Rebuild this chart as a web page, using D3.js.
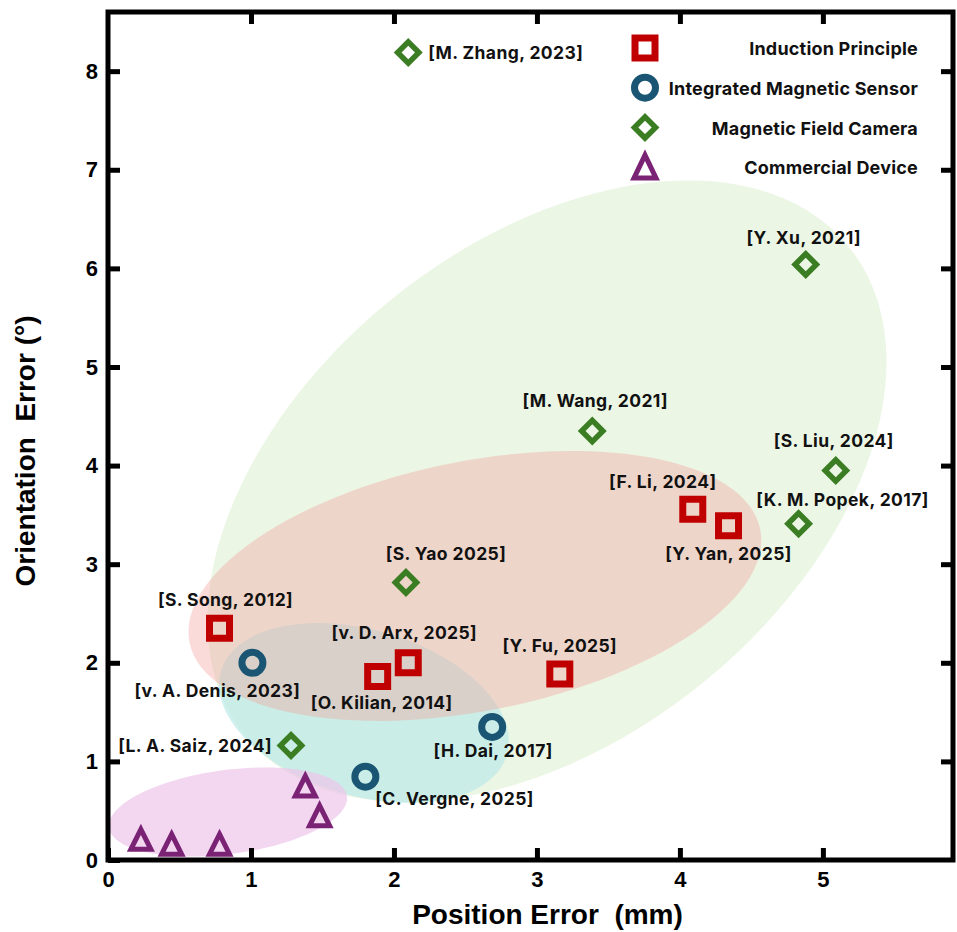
<!DOCTYPE html>
<html>
<head>
<meta charset="utf-8">
<script src="https://cdn.jsdelivr.net/npm/d3@7"></script>
<style>
  body { margin: 0; background: #fff; }
  svg text { white-space: pre; }
</style>
</head>
<body>
<svg id="chart" width="957" height="932"></svg>
<script>
// ---- data -------------------------------------------------------------
const seriesNames = ["Induction Principle", "Integrated Magnetic Sensor", "Magnetic Field Camera", "Commercial Device"];

// Induction principle systems
const inductionRefs = ["[S. Song, 2012]", "[O. Kilian, 2014]", "[v. D. Arx, 2025]", "[Y. Fu, 2025]", "[F. Li, 2024]", "[Y. Yan, 2025]"];
const inductionPosErr = [0.78, 1.886, 2.10, 3.16, 4.09, 4.34];
const inductionOriErr = [2.35, 1.86, 2.00, 1.886, 3.557, 3.39];

// Integrated magnetic sensor systems
const sensorRefs = ["[v. A. Denis, 2023]", "[H. Dai, 2017]", "[C. Vergne, 2025]"];
const sensorPosErr = [1.01, 2.687, 1.80];
const sensorOriErr = [2.00, 1.35, 0.845];

// Magnetic field camera systems
const cameraRefs = ["[M. Zhang, 2023]", "[Y. Xu, 2021]", "[M. Wang, 2021]", "[S. Liu, 2024]", "[K. M. Popek, 2017]", "[S. Yao 2025]", "[L. A. Saiz, 2024]"];
const cameraPosErr = [2.10, 4.88, 3.387, 5.09, 4.83, 2.084, 1.28];
const cameraOriErr = [8.19, 6.04, 4.35, 3.95, 3.41, 2.815, 1.16];

// Commercial devices (unlabelled)
const commercialPosErr = [0.23, 0.445, 0.78, 1.38, 1.48];
const commercialOriErr = [0.21, 0.16, 0.16, 0.75, 0.45];

const xTickValues = [0, 1, 2, 3, 4, 5];
const yTickValues = [0, 1, 2, 3, 4, 5, 6, 7, 8];

// Cluster outlines in data units: centre and two conjugate half-axes
const clusterCentre = [[3.07, 3.74], [1.790, 1.491], [2.566, 2.779], [0.839, 0.487]];
const clusterAxisA  = [[2.10, 2.50], [1.000, -0.424], [1.996, 0.573], [0.832, 0.160]];
const clusterAxisB  = [[1.110, -1.920], [-0.163, -0.808], [0.170, -1.243], [0.039, -0.422]];

// ---- layout & style -----------------------------------------------------
const plot = { left: 108, right: 953, top: 12, bottom: 860 };
const colours = { induction: "#c00000", sensor: "#1a5673", camera: "#3b7d23", commercial: "#7a2375" };
const clusterFill = ["#ebf6e5", "rgb(188,234,232)", "rgb(245,160,155)", "rgb(238,196,234)"];
const clusterOpacity = [1, 0.72, 0.38, 0.7];
const labelFont = "'Inter', 'Noto Sans', sans-serif";
const axisFont = "'Liberation Sans', Arial, sans-serif";

// label placement relative to each marker: [dx, dy, anchor]
const inductionLabelAt = [[6, -28, "middle"], [4, 26, "middle"], [-4, -30, "middle"], [0, -28, "middle"], [-30, -27, "middle"], [0, 28, "middle"]];
const sensorLabelAt = [[-35, 28, "middle"], [1, 24, "middle"], [10, 22, "start"]];
const cameraLabelAt = [[20, 0, "start"], [-2, -27, "middle"], [3, -30, "middle"], [-2, -30, "middle"], [44, -24, "middle"], [40, -29, "middle"], [-19, 0, "end"]];

const svg = d3.select("#chart");

const x = d3.scaleLinear().domain([0, 5.91]).range([plot.left, plot.right]);
const y = d3.scaleLinear().domain([0, 8.6]).range([plot.bottom, plot.top]);

// ---- cluster shading --------------------------------------------------
const steps = d3.range(0, 121).map(i => i / 120 * 2 * Math.PI);
const ellipseLine = d3.line().curve(d3.curveLinearClosed);
const gClusters = svg.append("g");
clusterCentre.forEach((c, i) => {
  const a = clusterAxisA[i], b = clusterAxisB[i];
  const pts = steps.map(t => [
    x(c[0] + Math.cos(t) * a[0] + Math.sin(t) * b[0]),
    y(c[1] + Math.cos(t) * a[1] + Math.sin(t) * b[1])
  ]);
  gClusters.append("path")
    .attr("d", ellipseLine(pts))
    .attr("fill", clusterFill[i])
    .attr("fill-opacity", clusterOpacity[i]);
});

// ---- axes -------------------------------------------------------------
function styleAxis(g) {
  g.select(".domain").remove();
  g.selectAll(".tick line").attr("stroke", "#000").attr("stroke-width", 5);
  g.selectAll(".tick text")
    .attr("font-family", axisFont).attr("font-weight", "bold")
    .attr("font-size", 22).attr("fill", "#000");
}

const intFmt = d3.format("d");
svg.append("g").attr("transform", `translate(0,${plot.bottom})`)
  .call(d3.axisBottom(x).tickValues(xTickValues).tickFormat(intFmt).tickSizeInner(-12).tickSizeOuter(0).tickPadding(11))
  .call(styleAxis);
svg.append("g").attr("transform", `translate(${plot.left},0)`)
  .call(d3.axisLeft(y).tickValues(yTickValues).tickFormat(intFmt).tickSizeInner(-12).tickSizeOuter(0).tickPadding(10))
  .call(styleAxis);
svg.append("g").attr("transform", `translate(0,${plot.top})`)
  .call(d3.axisTop(x).tickValues(xTickValues.slice(1)).tickSizeInner(-12).tickSizeOuter(0).tickFormat(""))
  .call(styleAxis);
svg.append("g").attr("transform", `translate(${plot.right},0)`)
  .call(d3.axisRight(y).tickValues(yTickValues.slice(1)).tickSizeInner(-12).tickSizeOuter(0).tickFormat(""))
  .call(styleAxis);

svg.append("rect")
  .attr("x", plot.left).attr("y", plot.top)
  .attr("width", plot.right - plot.left).attr("height", plot.bottom - plot.top)
  .attr("fill", "none").attr("stroke", "#000").attr("stroke-width", 5);

svg.append("text")
  .attr("x", (plot.left + plot.right) / 2 + 17).attr("y", 924)
  .attr("text-anchor", "middle")
  .attr("font-family", axisFont).attr("font-weight", "bold").attr("font-size", 28)
  .text("Position Error  (mm)");

svg.append("text")
  .attr("transform", "translate(35,451) rotate(-90)")
  .attr("text-anchor", "middle")
  .attr("font-family", axisFont).attr("font-weight", "bold").attr("font-size", 28)
  .text("Orientation  Error (°)");

// ---- markers ----------------------------------------------------------
const squarePath = d3.symbol(d3.symbolSquare, 400)();
const circlePath = d3.symbol(d3.symbolCircle, Math.PI * 10.5 * 10.5)();
const diamondPath = d3.symbol(d3.symbolSquare, 225)();
const trianglePath = "M0,-10L10,10L-10,10Z";

function drawMarkers(g, xs, ys, shape, colour, sw, rotate) {
  g.selectAll(null).data(xs).enter().append("path")
    .attr("d", shape)
    .attr("transform", (d, i) => `translate(${x(d)},${y(ys[i])})${rotate ? " rotate(45)" : ""}`)
    .attr("fill", "none")
    .attr("stroke", colour).attr("stroke-width", sw)
    .attr("stroke-linejoin", "miter");
}

function drawLabels(g, refs, xs, ys, placing) {
  g.selectAll(null).data(refs).enter().append("text")
    .attr("x", (d, i) => x(xs[i]) + placing[i][0])
    .attr("y", (d, i) => y(ys[i]) + placing[i][1])
    .attr("dy", "0.35em")
    .attr("text-anchor", (d, i) => placing[i][2])
    .attr("font-family", labelFont).attr("font-weight", 700).attr("font-size", 17.5)
    .attr("letter-spacing", 0.4)
    .attr("fill", "#111")
    .text(d => d);
}

const gMarks = svg.append("g");
drawMarkers(gMarks, commercialPosErr, commercialOriErr, trianglePath, colours.commercial, 5, false);
drawMarkers(gMarks, cameraPosErr, cameraOriErr, diamondPath, colours.camera, 5.5, true);
drawMarkers(gMarks, sensorPosErr, sensorOriErr, circlePath, colours.sensor, 7, false);
drawMarkers(gMarks, inductionPosErr, inductionOriErr, squarePath, colours.induction, 7, false);

const gLabels = svg.append("g");
drawLabels(gLabels, inductionRefs, inductionPosErr, inductionOriErr, inductionLabelAt);
drawLabels(gLabels, sensorRefs, sensorPosErr, sensorOriErr, sensorLabelAt);
drawLabels(gLabels, cameraRefs, cameraPosErr, cameraOriErr, cameraLabelAt);

// ---- legend -----------------------------------------------------------
const legend = svg.append("g").attr("transform", "translate(645,48)");
const legendShapes = [
  { d: squarePath, c: colours.induction, sw: 7, rot: false },
  { d: circlePath, c: colours.sensor, sw: 7, rot: false },
  { d: diamondPath, c: colours.camera, sw: 5.5, rot: true },
  { d: "M0,-12L11,11L-11,11Z", c: colours.commercial, sw: 5, rot: false }
];
seriesNames.forEach((name, i) => {
  const row = legend.append("g").attr("transform", `translate(0,${i * 39.7})`);
  const s = legendShapes[i];
  row.append("path").attr("d", s.d)
    .attr("transform", s.rot ? "rotate(45)" : null)
    .attr("fill", "none").attr("stroke", s.c).attr("stroke-width", s.sw);
  row.append("text")
    .attr("x", 273).attr("y", 1).attr("dy", "0.35em")
    .attr("text-anchor", "end")
    .attr("font-family", labelFont).attr("font-weight", 700).attr("font-size", 18)
    .attr("letter-spacing", 0.2)
    .attr("fill", "#111")
    .text(name);
});
</script>
</body>
</html>
